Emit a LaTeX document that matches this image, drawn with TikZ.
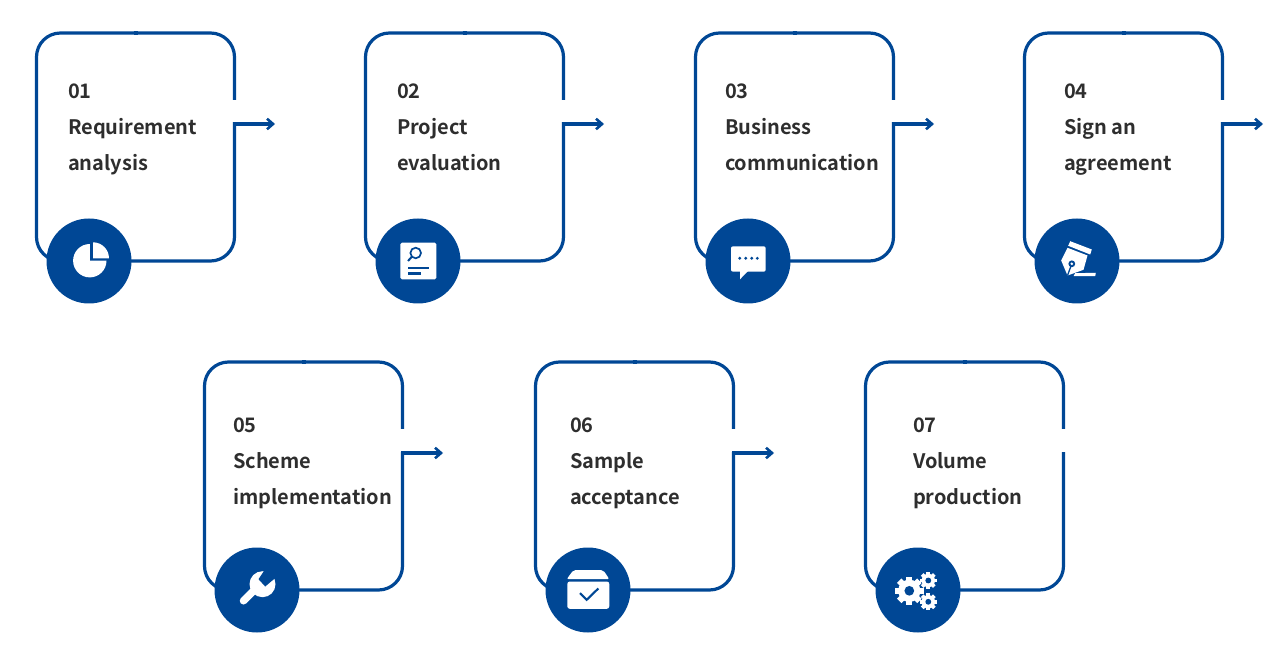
\documentclass[tikz,border=0pt]{standalone}
\usepackage{xcolor}
\usepackage{fontspec}
\setmainfont{Noto Sans CJK SC Bold}
\usetikzlibrary{positioning, arrows.meta}
\definecolor{stepblue}{HTML}{004795}
\definecolor{steptextcolor}{HTML}{2E2E2E}
\tikzstyle{stepcard} = [rectangle, draw=stepblue, line width=3.2pt, rounded corners=24pt, minimum width=198pt, minimum height=228pt, outer sep=0pt, inner sep=0pt]
\tikzstyle{steptext} = [anchor=north west, inner sep=0pt, outer sep=0pt, align=left, text=steptextcolor, font=\fontsize{20pt}{36pt}\selectfont]
\tikzstyle{stepicon} = [circle, fill=stepblue, minimum size=85pt, inner sep=0pt, outer sep=0pt]
\tikzstyle{arrow} = [stepblue, line width=3.2pt, -{Straight Barb[length=6pt,width=10.5pt,line width=2.6pt]}]
\newcommand{\gearwheel}[3]{% x, y, outer radius
  \foreach \a in {0,45,...,315} {
    \fill[white, rotate around={\a:(#1,#2)}] (#1-0.22*#3,#2) rectangle (#1+0.22*#3,#2+#3);
  }
  \fill[white] (#1,#2) circle (0.78*#3);
  \fill[stepblue] (#1,#2) circle (0.34*#3);
}

\begin{document}
\begin{tikzpicture}[x=1pt, y=1pt]

\useasboundingbox (0,0) rectangle (1270,-652);

% Cards
\node (card1) [stepcard] at (135.5,-147) {};
\node (card2) [stepcard, right=131pt of card1] {};
\node (card3) [stepcard, right=132pt of card2] {};
\node (card4) [stepcard, right=131pt of card3] {};
\node (card5) [stepcard] at (303.5,-476) {};
\node (card6) [stepcard, right=133pt of card5] {};
\node (card7) [stepcard, right=132pt of card6] {};

% Gaps and marks on the outlines
\foreach \i in {1,...,7} {
  \draw [white, line width=4.4pt] ([yshift=47pt]card\i.east) -- ([yshift=24.5pt]card\i.east);
  \draw [stepblue, line width=4pt] ([xshift=-2pt]card\i.north) -- ([xshift=2pt]card\i.north);
}

% Texts
\node (text1) [steptext, below right=50.5pt and 31.5pt of card1.north west] {01\\Requirement\\analysis};
\node (text2) [steptext, below right=50.5pt and 31.5pt of card2.north west] {02\\Project\\evaluation};
\node (text3) [steptext, below right=50.5pt and 29.5pt of card3.north west] {03\\Business\\communication};
\node (text4) [steptext, below right=50.5pt and 39.5pt of card4.north west] {04\\Sign an\\agreement};
\node (text5) [steptext, below right=55.5pt and 28.5pt of card5.north west] {05\\Scheme\\implementation};
\node (text6) [steptext, below right=55.5pt and 34.5pt of card6.north west] {06\\Sample\\acceptance};
\node (text7) [steptext, below right=55.5pt and 47.5pt of card7.north west] {07\\Volume\\production};

% Arrows
\foreach \i in {1,...,6} {
  \coordinate (out\i) at ([yshift=23pt]card\i.east);
  \coordinate (end\i) at ([xshift=40.5pt]out\i);
  \draw [arrow] ([xshift=-1.6pt]out\i) -- (end\i);
}

% Icons
\foreach \i in {1,...,7} {
  \node (icon\i) [stepicon] at ([xshift=-46.5pt]card\i.south) {};
}

% Pie
\begin{scope}[shift={(icon1.center)}]
  \fill [white] (0.8,0.3) -- (0.8,17) arc (90:360:16.7) -- cycle;
  \fill [white] (4,2.7) -- (4,18.7) arc (90:0:16) -- cycle;
\end{scope}

% Report with magnifier
\begin{scope}[shift={(icon2.center)}]
  \fill [white, rounded corners=1.5pt] (-17.7,18.3) rectangle (18.3,-18.3);
  \draw [stepblue, line width=1.7pt] (-2.3,8) circle (5.3);
  \draw [stepblue, line width=2pt] (-6.2,4.2) -- (-10,0);
  \draw [stepblue, line width=2.4pt] (-10,-7) -- (11.3,-7);
  \draw [stepblue, line width=2.4pt] (-10,-12.7) -- (2.7,-12.7);
\end{scope}

% Chat
\begin{scope}[shift={(icon3.center)}]
  \fill [white, rounded corners=2pt] (-17,14.7) rectangle (17.7,-10.7);
  \fill [white] (-8,-9) -- (-8,-18.3) -- (1,-9) -- cycle;
  \foreach \x in {-8.3,-2.3,3.7,9.3} {
    \fill [stepblue] (\x,2.7) circle (1.6);
  }
\end{scope}

% Pen
\begin{scope}[shift={(icon4.center)}]
  \fill [white] (-6.8,19.8) -- (14.8,11.5) -- (13.2,6.5) -- (-8.8,15.2) -- cycle;
  \fill [white] (-9.5,13.2) -- (10.5,5.5) -- (6.5,-8.8) -- (-9.5,-14.5) -- (-15.8,0.5) -- cycle;
  \fill [stepblue] (-5.2,-2.8) circle (3.4);
  \draw [stepblue, line width=1.3pt] (-5.2,-2.8) -- (-9.5,-14.5);
  \fill [white] (-5.2,-2.8) circle (1.4);
  \fill [white] (-1.8,-12.2) -- (18.8,-11.8) -- (18.2,-15.2) -- (-3.5,-15.2) -- cycle;
\end{scope}

% Wrench
\begin{scope}[shift={(icon5.center)}]
  \draw [white, line width=7.5pt, line cap=round] (-13.5,-10.8) -- (-0.2,2.5);
  \fill [white] (5.5,5.8) circle (13);
  \fill [stepblue] (1.5,10.8) -- (8.2,3.5) -- (24.8,17.5) -- (11.5,25.8) -- cycle;
\end{scope}

% Box with tick
\begin{scope}[shift={(icon6.center)}]
  \fill [white, rounded corners=2pt] (-21.3,10.8) -- (-14.7,19.8) -- (15.3,19.8) -- (21.3,10.8) -- cycle;
  \fill [white, rounded corners=2.5pt] (-20.7,8.5) rectangle (21.3,-18.8);
  \draw [stepblue, line width=2.1pt] (-8,-3.2) -- (-1.3,-9.8) -- (10.3,1.5);
\end{scope}

% Gears
\begin{scope}[shift={(icon7.center)}]
  \gearwheel{-8.7}{-0.8}{14.3}
  \gearwheel{10.3}{9.5}{8.6}
  \gearwheel{10.3}{-11.8}{8.6}
\end{scope}

\end{tikzpicture}
\end{document}
